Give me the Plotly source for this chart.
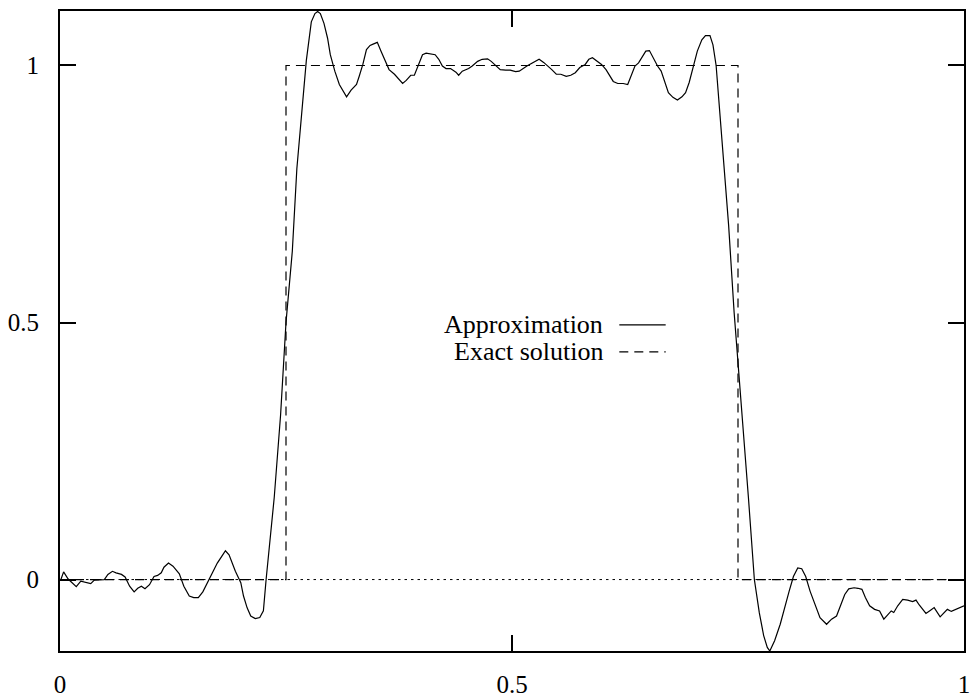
import plotly.graph_objects as go

# Approximation curve
approx_x = [0.001, 0.004, 0.009, 0.018, 0.023, 0.028, 0.034, 0.038, 0.044, 0.049,
            0.053, 0.058, 0.062, 0.068, 0.072, 0.077, 0.082, 0.086, 0.090, 0.094,
            0.099, 0.104, 0.108, 0.112, 0.115, 0.120, 0.125, 0.132, 0.137, 0.143,
            0.148, 0.153, 0.158, 0.163, 0.169, 0.174, 0.180, 0.183, 0.187, 0.194,
            0.200, 0.203, 0.207, 0.211, 0.216, 0.221, 0.225,
            0.228, 0.237, 0.244, 0.250, 0.257, 0.262, 0.268, 0.2725, 0.278, 0.282,
            0.285, 0.288, 0.292, 0.296, 0.299, 0.304, 0.309, 0.314, 0.317, 0.322,
            0.328, 0.331, 0.335, 0.339, 0.343, 0.347, 0.351, 0.355, 0.361, 0.364,
            0.370, 0.375, 0.379, 0.383, 0.388, 0.392, 0.397, 0.401, 0.405, 0.410,
            0.415, 0.419, 0.423, 0.427, 0.432, 0.438, 0.441, 0.445, 0.449, 0.452,
            0.456, 0.462, 0.467, 0.473, 0.477, 0.482, 0.487, 0.493, 0.498, 0.504,
            0.508, 0.5165, 0.522, 0.530, 0.535, 0.540, 0.544, 0.549, 0.554, 0.560,
            0.565, 0.570, 0.575, 0.581, 0.585, 0.589, 0.593, 0.599, 0.604, 0.608,
            0.612, 0.617, 0.623, 0.628, 0.632, 0.636, 0.640, 0.645, 0.648, 0.652,
            0.656, 0.661, 0.665, 0.669, 0.673, 0.678, 0.683, 0.688, 0.692, 0.696,
            0.700, 0.705, 0.710, 0.714, 0.719, 0.7223, 0.7258, 0.7324, 0.7396, 0.7457,
            0.7505, 0.7555, 0.7615, 0.7681, 0.7736, 0.7784, 0.7824, 0.7852, 0.7905, 0.7967,
            0.8022, 0.8066, 0.8113, 0.8161, 0.8205, 0.8249, 0.8297, 0.8352, 0.8407, 0.8480,
            0.8535, 0.8590, 0.8637, 0.8681, 0.8725, 0.8784, 0.8827, 0.8871, 0.8909, 0.8956,
            0.9011, 0.9066, 0.9113, 0.9157, 0.9195, 0.9223, 0.9267, 0.9322, 0.9377, 0.9432,
            0.9469, 0.9505, 0.9579, 0.9626, 0.9670, 0.9736, 0.9780, 0.9816, 0.9860, 0.9909,
            0.9945, 1.000]
approx_y = [0.000, 0.015, 0.001, -0.014, -0.003, -0.005, -0.008, -0.001, -0.001, 0.000,
            0.010, 0.016, 0.013, 0.010, 0.005, -0.013, -0.024, -0.017, -0.013, -0.018,
            -0.010, 0.006, 0.008, 0.013, 0.024, 0.032, 0.026, 0.011, -0.013, -0.032,
            -0.035, -0.035, -0.024, -0.006, 0.013, 0.032, 0.048, 0.056, 0.048, 0.016,
            -0.006, -0.032, -0.055, -0.071, -0.076, -0.074, -0.061,
            0.000, 0.160, 0.320, 0.500, 0.639, 0.799, 0.920, 1.010, 1.085, 1.101,
            1.105, 1.101, 1.082, 1.053, 1.021, 0.989, 0.963, 0.947, 0.939, 0.952,
            0.963, 0.979, 1.002, 1.031, 1.039, 1.042, 1.045, 1.028, 1.005, 0.992,
            0.983, 0.973, 0.965, 0.971, 0.981, 0.981, 1.002, 1.021, 1.024, 1.022,
            1.021, 1.012, 0.999, 0.994, 0.994, 0.987, 0.981, 0.989, 0.992, 0.994,
            0.999, 1.008, 1.012, 1.013, 1.008, 0.999, 0.992, 0.991, 0.991, 0.988,
            0.989, 0.999, 1.004, 1.012, 1.006, 0.999, 0.992, 0.983, 0.983, 0.979,
            0.981, 0.986, 0.996, 1.002, 1.012, 1.015, 1.010, 1.002, 0.992, 0.979,
            0.969, 0.965, 0.965, 0.963, 0.983, 0.999, 1.005, 1.018, 1.028, 1.029,
            1.015, 0.999, 0.989, 0.970, 0.947, 0.938, 0.933, 0.939, 0.947, 0.967,
            0.996, 1.028, 1.050, 1.058, 1.058, 1.040, 1.000, 0.860, 0.690, 0.520,
            0.410, 0.310, 0.160, 0.000, -0.065, -0.109, -0.132, -0.139, -0.119, -0.087,
            -0.048, -0.0225, 0.006, 0.0225, 0.021, 0.006, -0.0225, -0.048, -0.074, -0.087,
            -0.077, -0.071, -0.048, -0.029, -0.018, -0.016, -0.017, -0.019, -0.035, -0.051,
            -0.058, -0.061, -0.077, -0.069, -0.061, -0.064, -0.051, -0.0385, -0.040, -0.043,
            -0.040, -0.0495, -0.066, -0.060, -0.0546, -0.0726, -0.064, -0.058, -0.062, -0.058,
            -0.0546, -0.051]

# Exact solution (step function)
exact_x = [0.0, 0.25, 0.25, 0.75, 0.75, 1.0]
exact_y = [0.0, 0.0, 1.0, 1.0, 0.0, 0.0]

tick_vals = [0, 0.5, 1]
tick_text = ["0", "0.5", "1"]
x_range = [0, 1]
y_range = [-0.139, 1.106]

FONT = "Liberation Serif, Times New Roman, serif"

fig = go.Figure()
fig.add_trace(go.Scatter(x=approx_x, y=approx_y, mode="lines",
                         line=dict(color="black", width=1.2),
                         name="Approximation", showlegend=False))
fig.add_trace(go.Scatter(x=exact_x, y=exact_y, mode="lines",
                         line=dict(color="black", width=1.2, dash="9px,6px"),
                         name="Exact solution", showlegend=False))

# dotted zero axis
fig.add_shape(type="line", xref="x domain", yref="y", x0=0, x1=1, y0=0, y1=0,
              line=dict(color="black", width=1, dash="2.5px,4px"), layer="below")

# legend (gnuplot style: text then sample)
legend_rows = [("Approximation", "solid", 0.5095), ("Exact solution", "9px,6px", 0.4675)]
for label, dash, yy in legend_rows:
    fig.add_annotation(x=0.6023, y=yy, xref="paper", yref="paper", text=label,
                       showarrow=False, xanchor="right", yanchor="middle", borderpad=0,
                       font=dict(family=FONT, size=26, color="black"))
    fig.add_shape(type="line", xref="paper", yref="paper", x0=0.6187, x1=0.670,
                  y0=yy, y1=yy, line=dict(color="black", width=1.2, dash=dash))

axis_common = dict(showline=True, linecolor="black", linewidth=2, mirror="ticks",
                   ticks="inside", ticklen=16, tickwidth=2, tickcolor="black",
                   showgrid=False, zeroline=False, ticklabeloverflow="allow",
                   tickfont=dict(family=FONT, size=25, color="black"))

fig.update_xaxes(range=x_range, tickvals=tick_vals, ticktext=tick_text,
                 ticklabelstandoff=10, **axis_common)
fig.update_yaxes(range=y_range, tickvals=tick_vals, ticktext=tick_text,
                 ticklabelstandoff=14, **axis_common)

fig.update_layout(width=971, height=699, margin=dict(l=60, r=1, t=11, b=42),
                  plot_bgcolor="white", paper_bgcolor="white", showlegend=False)

fig.write_html("out.html", config={"responsive": False, "displayModeBar": False},
               post_script="var gd=document.getElementById('{plot_id}');"
                           "gd.style.overflow='hidden';"
                           "var sv=gd.querySelectorAll('svg');"
                           "for(var i=0;i<sv.length;i++){sv[i].style.overflow='hidden';}"
                           "document.body.style.margin='0px';"
                           "document.body.style.overflow='hidden';"
                           "document.documentElement.style.overflow='hidden';")
